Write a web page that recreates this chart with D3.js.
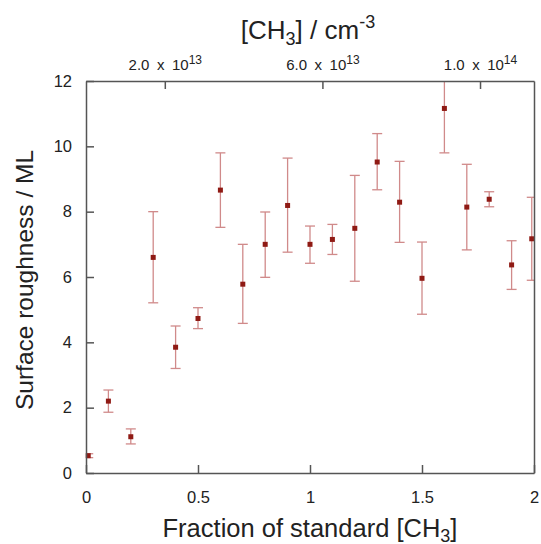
<!DOCTYPE html>
<html lang="en">
<head>
    <meta charset="UTF-8">
    <title>Surface roughness</title>
    <script src="https://cdn.jsdelivr.net/npm/d3@7"></script>
    <style>
        body { margin: 0; background: #fff; }
        text { font-family: "Liberation Sans", Arial, sans-serif; fill: #222; }
    </style>
</head>
<body>
<svg id="chart" width="541" height="544"></svg>

<script>
    // fraction of standard [CH3]
    var fraction = [0.01, 0.1, 0.2, 0.3, 0.4, 0.5, 0.6, 0.7, 0.8, 0.9, 1.0,
                    1.1, 1.2, 1.3, 1.4, 1.5, 1.6, 1.7, 1.8, 1.9, 1.99];
    // surface roughness / ML
    var roughness = [0.53, 2.20, 1.11, 6.60, 3.85, 4.73, 8.66, 5.78, 7.00, 8.19, 7.00,
                     7.15, 7.49, 9.52, 8.29, 5.96, 11.16, 8.14, 8.38, 6.37, 7.17];
    var errLow = [0.47, 1.86, 0.89, 5.21, 3.20, 4.42, 7.52, 4.58, 5.99, 6.76, 6.42,
                  6.69, 5.87, 8.67, 7.06, 4.86, 9.80, 6.83, 8.15, 5.62, 5.90];
    var errHigh = [0.59, 2.54, 1.35, 8.00, 4.50, 5.06, 9.80, 7.00, 7.99, 9.64, 7.56,
                   7.61, 9.11, 10.39, 9.54, 7.07, 12.5, 9.45, 8.61, 7.11, 8.44];

    var bottomTicks = [0, 0.5, 1, 1.5, 2];
    var leftTicks = [0, 2, 4, 6, 8, 10, 12];
    var topTicks = [2.0e13, 6.0e13, 1.0e14];
    var topMax = 1.137e14; // [CH3] at fraction 2

    var svg = d3.select("#chart"),
        margin = {top: 81, right: 7, bottom: 71, left: 86},
        width = 541 - margin.left - margin.right,
        height = 544 - margin.top - margin.bottom,
        g = svg.append("g").attr("transform", "translate(" + margin.left + "," + margin.top + ")");

    var x = d3.scaleLinear().domain([0, 2]).range([0, width]);
    var xTop = d3.scaleLinear().domain([0, topMax]).range([0, width]);
    var y = d3.scaleLinear().domain([0, 12]).range([height, 0]);

    var data = fraction.map(function (f, i) {
        return {f: f, v: roughness[i], lo: errLow[i], hi: errHigh[i]};
    });

    g.append("clipPath").attr("id", "clip")
        .append("rect").attr("width", width).attr("height", height);

    // error bars
    var bars = g.append("g").attr("clip-path", "url(#clip)")
        .attr("stroke", "#d08a8a").attr("stroke-width", 1.3).attr("fill", "none");

    bars.selectAll("g.eb")
        .data(data)
        .enter().append("g")
        .attr("class", "eb")
        .each(function (d) {
            var s = d3.select(this), cx = x(d.f);
            s.append("line").attr("x1", cx).attr("x2", cx).attr("y1", y(d.lo)).attr("y2", y(d.hi));
            s.append("line").attr("x1", cx - 5).attr("x2", cx + 5).attr("y1", y(d.lo)).attr("y2", y(d.lo));
            s.append("line").attr("x1", cx - 5).attr("x2", cx + 5).attr("y1", y(d.hi)).attr("y2", y(d.hi));
        });

    g.append("g").selectAll("rect")
        .data(data)
        .enter().append("rect")
        .attr("x", function (d) { return x(d.f) - 2.5; })
        .attr("y", function (d) { return y(d.v) - 2.5; })
        .attr("width", 5)
        .attr("height", 5)
        .attr("fill", "#8f1a14");

    // axes (ticks pointing inward)
    var axB = g.append("g")
        .attr("transform", "translate(0," + height + ")")
        .call(d3.axisBottom(x).tickValues(bottomTicks).tickSizeInner(-8).tickSizeOuter(0)
            .tickPadding(18).tickFormat(d3.format("")));

    var axL = g.append("g")
        .call(d3.axisLeft(y).tickValues(leftTicks).tickSizeInner(-8).tickSizeOuter(0)
            .tickPadding(14));

    var axT = g.append("g")
        .call(d3.axisTop(xTop).tickValues(topTicks).tickSizeInner(-8).tickSizeOuter(0)
            .tickFormat(function () { return ""; }));

    g.append("g")
        .attr("transform", "translate(" + width + ",0)")
        .call(d3.axisRight(y).tickValues([]).tickSizeOuter(0));

    [axB, axL, axT].forEach(function (a) {
        a.selectAll("text").attr("font-size", 16.5).style("font-family", "Liberation Sans, Arial, sans-serif").attr("fill", "#222");
    });
    g.selectAll(".domain, .tick line").attr("stroke", "#555").attr("stroke-width", 1.5);

    // top tick labels with superscripts
    axT.selectAll(".tick").each(function (d) {
        var e = Math.floor(Math.log10(d));
        var m = (d / Math.pow(10, e)).toFixed(1);
        var t = d3.select(this).select("text").text(null)
            .attr("y", -11).attr("dy", 0).attr("text-anchor", "middle")
            .attr("font-size", 15);
        t.append("tspan").text(m + "\u2002x\u200210");
        t.append("tspan").attr("dy", -6).attr("font-size", 12).text(e);
    });

    // axis titles
    var xt = svg.append("text")
        .attr("x", 310).attr("y", 537)
        .attr("text-anchor", "middle")
        .attr("font-size", 25.5);
    xt.append("tspan").text("Fraction of standard [CH");
    xt.append("tspan").attr("font-size", 18).attr("dy", 5).text("3");
    xt.append("tspan").attr("dy", -5).text("]");

    var tt = svg.append("text")
        .attr("x", 308).attr("y", 39)
        .attr("text-anchor", "middle")
        .attr("font-size", 26);
    tt.append("tspan").text("[CH");
    tt.append("tspan").attr("font-size", 18).attr("dy", 6).text("3");
    tt.append("tspan").attr("dy", -6).text("] / cm");
    tt.append("tspan").attr("font-size", 18).attr("dy", -11).text("-3");

    svg.append("text")
        .attr("transform", "translate(33,280) rotate(-90)")
        .attr("text-anchor", "middle")
        .attr("font-size", 24.5)
        .text("Surface roughness / ML");
</script>
</body>
</html>
